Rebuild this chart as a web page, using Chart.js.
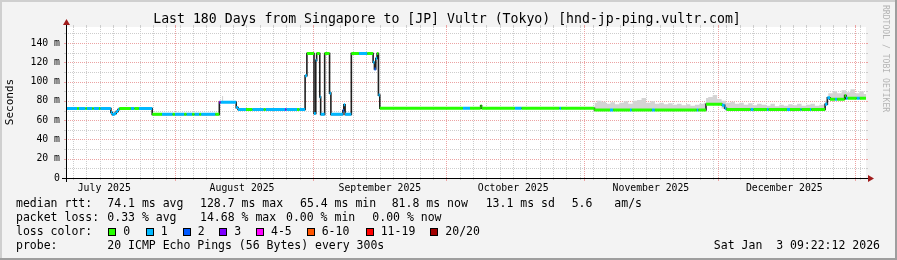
<!DOCTYPE html>
<html><head><meta charset="utf-8">
<script src="https://cdn.jsdelivr.net/npm/chart.js@4.4.1/dist/chart.umd.min.js"></script>
<style>html,body{margin:0;padding:0;background:#f3f3f3;}canvas{display:block;}</style>
</head><body>
<canvas id="c" width="897" height="260"></canvas>
<script>
// ---- data (x in days since start of the 180-day window) ----
const medDay = [0,2.5,2.9,4.4,4.7,5.9,6.2,7.4,7.7,10.1,10.4,10.9,11.3,11.7,12.0,14.6,15.4,16.4,
  19.4,21.6,24.0,24.5,26.6,27.1,28.4,28.9,30.0,30.4,33.6,34.5,34.8,38.3,38.7,40.5,41.9,44.5,44.9,49.3,49.6,52.0,52.5,
  53.8,54.2,55.8,56.2,56.4,57.1,57.3,58.2,59.3,59.6,62.3,62.5,62.8,64.2,65.9,67.8,69.1,69.4,69.7,70.0,70.3,70.6,
  89.3,90.9,93.3,93.5,101.0,102.5,111.0,111.4,118.9,122.4,123.1,126.9,127.3,131.8,132.5,141.9,142.3,144.0,
  147.6,148.2,148.6,154.0,154.7,157.7,158.1,162.2,162.9,165.2,165.5,167.4,167.7,170.8,171.3,171.9,173.0,173.5,
  175.2,175.5,175.9,177.9,178.6];
const medVal = [72,72,72,72,72,72,72,72,72,68,65.8,67,69,71,72,72,72,72,
  66,66,66,66,66,66,66,66,66,66,66,78.5,78.5,73,71,71,71,71,71,71,71,71,71,
  106,129,67,122,129,84,66,129,88,66,70,76,66,129,129,129,120,113,124,129,86,72.3,
  72.3,72.3,75,72.3,72.3,72.3,72.3,72.3,70.5,70.5,70.5,70.5,70.5,70.5,70.5,70.5,70.5,76.5,
  75.5,72.3,71,71,71,71,71,71,71,71,71,71,71,76.5,83.3,81.6,81.6,81.6,
  85.4,82.7,82.7,82.7,82.7];
const medLoss = [1,0,1,0,1,0,1,0,1,1,1,1,1,1,0,1,0,1,
  0,1,0,1,0,1,0,1,0,1,0,3,1,1,1,0,1,0,1,3,1,0,1,
  1,0,1,1,0,1,1,0,1,1,2,1,1,0,1,0,1,2,1,0,1,0,
  1,0,0,0,1,0,1,0,0,1,0,1,0,1,0,1,0,0,
  1,1,0,1,0,1,0,1,0,1,0,1,0,1,1,0,1,0,
  0,1,0,1,0];
const smokeDay = [35.1,35.4,35.5,
  118.9,119.5,120.5,121.5,122.5,123.5,124.5,125.5,126.5,127.5,128.5,129.5,130.5,131.5,132.5,133.5,134.5,135.5,136.5,137.5,138.5,139.5,140.5,141.5,142.5,143.5,
  144.0,144.5,145.5,146.5,147.5,148.5,149.5,150.5,151.5,152.5,153.5,154.5,155.5,156.5,157.5,158.5,159.5,160.5,161.5,162.5,163.5,164.5,165.5,166.5,167.5,168.5,169.5,170.5,
  170.8,171.5,172.5,173.5,174.5,175.5,176.5,177.5,178.5,179.5,180];
const smokeLo = [78,78,null,
  70,70,70,70,70,70,70,70,70,70,70,70,70,70,70,70,70,70,70,70,70,70,70,70,70,70,
  76,76,76,76,72,70.5,70.5,70.5,70.5,70.5,70.5,70.5,70.5,70.5,70.5,70.5,70.5,70.5,70.5,70.5,70.5,70.5,70.5,70.5,70.5,70.5,70.5,70.5,
  76,81,81,81,81,82,82,82,82,82,82];
const smokeHi = [85,78,null,
  78,80,79,77,78.5,76.5,78,79.5,77,80,81,83,78,79.5,77,78,76.5,77.5,76,77,75.5,76.5,75,76,77,78,
  83,84,86,82,80,78,79,77,78,76,77.5,75.5,77,76,75,77,74.5,76,75,76.5,75.5,77,75,76,77,75,76,77,
  80,88,90,88,91,89,92,88,90,87,87];
const yTicks = [0,20,40,60,80,100,120,140];
const monthLabels = ['July 2025','August 2025','September 2025','October 2025','November 2025','December 2025'];
const monthMidDay = [8.61,39.61,70.61,100.61,131.61,161.61];
const monthStartDay = [24.61,55.61,85.61,116.61,146.61,177.61];
const lossLabels = ['0','1','2','3','4-5','6-10','11-19','20/20'];
const lossColors = ['#26ff00','#00b8ff','#0059ff','#7e00ff','#ff00ff','#ff5500','#ff0000','#a10000'];
const titleText = 'Last 180 Days from Singapore to [JP] Vultr (Tokyo) [hnd-jp-ping.vultr.com]';
const statRtt = ['median rtt:','74.1 ms avg','128.7 ms max','65.4 ms min','81.8 ms now','13.1 ms sd','5.6','am/s'];
const statLoss = ['packet loss:','0.33 % avg','14.68 % max','0.00 % min','0.00 % now'];
const probeText = ['probe:','20 ICMP Echo Pings (56 Bytes) every 300s'];
const stampText = 'Sat Jan  3 09:22:12 2026';

// ---- build datasets ----
const END = 180;
const blackPts = medDay.map((d,i)=>({x:d,y:medVal[i]}));
blackPts.push({x:END,y:medVal[medVal.length-1]});
const colorPts = lossColors.map(()=>[]);
medDay.forEach((d,i)=>{
  const e = i+1<medDay.length ? medDay[i+1] : END;
  colorPts[medLoss[i]].push({x:d,y:medVal[i]},{x:e,y:medVal[i]},{x:e,y:null});
});
const loPts = smokeDay.map((d,i)=>({x:d,y:smokeLo[i]}));
const hiPts = smokeDay.map((d,i)=>({x:d,y:smokeHi[i]}));

const datasets = [];
lossColors.forEach((c,i)=>{
  datasets.push({data:colorPts[i],borderColor:c,borderWidth:3,borderCapStyle:'butt',pointRadius:0,fill:false,order:1,spanGaps:false});
});
datasets.push({data:blackPts,borderColor:'#202020',borderWidth:1.6,stepped:true,pointRadius:0,fill:false,order:2});
const loIndex = datasets.length;
datasets.push({data:loPts,borderWidth:0,borderColor:'rgba(0,0,0,0)',stepped:true,pointRadius:0,fill:false,order:4});
datasets.push({data:hiPts,borderWidth:0,borderColor:'rgba(0,0,0,0)',backgroundColor:'#d4d4d4',stepped:true,pointRadius:0,fill:{target:loIndex},order:3});

const MONO = '"DejaVu Sans Mono", monospace';
const MINOR = '#cdcdcd', MAJOR = '#eca3a3', ARROW = '#a01c1c';

const rrdPlugin = {
  id:'rrd',
  beforeDraw(chart){
    const ctx = chart.ctx, a = chart.chartArea, W = chart.width, H = chart.height;
    ctx.save();
    ctx.fillStyle = '#f3f3f3'; ctx.fillRect(0,0,W,H);
    ctx.fillStyle = '#cfcfcf'; ctx.fillRect(0,0,W,2); ctx.fillRect(0,0,2,H);
    ctx.fillStyle = '#9e9e9e'; ctx.fillRect(0,H-2,W,2); ctx.fillRect(W-2,0,2,H);
    ctx.fillStyle = '#ffffff'; ctx.fillRect(a.left,a.top,a.right-a.left,a.bottom-a.top);
    ctx.restore();
  },
  beforeDatasetsDraw(chart){
    const ctx = chart.ctx, a = chart.chartArea, xs = chart.scales.x, ys = chart.scales.y;
    ctx.save();
    ctx.lineWidth = 1;
    const vline = (px,col,stubs)=>{
      const x = Math.round(px)+0.5;
      ctx.strokeStyle = col; ctx.setLineDash([1,1]);
      ctx.beginPath(); ctx.moveTo(x,a.bottom); ctx.lineTo(x,a.top); ctx.stroke();
      ctx.setLineDash([]);
      ctx.beginPath(); ctx.moveTo(x,a.bottom); ctx.lineTo(x,a.bottom+stubs); ctx.moveTo(x,a.top-2); ctx.lineTo(x,a.top); ctx.stroke();
    };
    const hline = (py,col)=>{
      const y = Math.round(py)+0.5;
      ctx.strokeStyle = col; ctx.setLineDash([1,1]);
      ctx.beginPath(); ctx.moveTo(a.left,y); ctx.lineTo(a.right,y); ctx.stroke();
      ctx.setLineDash([]);
      ctx.beginPath(); ctx.moveTo(a.left-2,y); ctx.lineTo(a.left,y); ctx.moveTo(a.right,y); ctx.lineTo(a.right+2,y); ctx.stroke();
    };
    for(let d=1.61; d<END; d+=3){ vline(xs.getPixelForValue(d),MINOR,2); }
    for(let v=10; v<ys.max; v+=20){ hline(ys.getPixelForValue(v),MINOR); }
    monthStartDay.forEach(d=>vline(xs.getPixelForValue(d),MAJOR,3));
    yTicks.forEach(v=>{ if(v>0) hline(ys.getPixelForValue(v),MAJOR); });
    ctx.restore();
  },
  afterDatasetsDraw(chart){
    const ctx = chart.ctx, a = chart.chartArea;
    ctx.save();
    ctx.strokeStyle = '#000'; ctx.lineWidth = 1; ctx.setLineDash([]);
    const y0 = Math.round(a.bottom)+0.5, x0 = Math.round(a.left)+0.5;
    ctx.beginPath(); ctx.moveTo(a.left-4,y0); ctx.lineTo(a.right+4,y0); ctx.stroke();
    ctx.beginPath(); ctx.moveTo(x0,a.bottom+4); ctx.lineTo(x0,a.top-4); ctx.stroke();
    ctx.fillStyle = ARROW;
    ctx.beginPath(); ctx.moveTo(a.right+2,y0-3.5); ctx.lineTo(a.right+2,y0+3.5); ctx.lineTo(a.right+8,y0); ctx.closePath(); ctx.fill();
    ctx.beginPath(); ctx.moveTo(x0-3.5,a.top-2); ctx.lineTo(x0+3.5,a.top-2); ctx.lineTo(x0,a.top-8); ctx.closePath(); ctx.fill();
    ctx.restore();
  },
  afterDraw(chart){
    const ctx = chart.ctx;
    ctx.save();
    ctx.fillStyle = '#000'; ctx.textBaseline = 'middle';
    ctx.font = '13.2px '+MONO; ctx.textAlign = 'center';
    ctx.fillText(titleText, 447, 19.5);
    ctx.textAlign = 'left'; ctx.font = '11.5px '+MONO;
    const c1 = [16,107.3,200,300,391.7,485.7,571.7,614.3];
    statRtt.forEach((t,i)=>ctx.fillText(t,c1[i],204.5));
    const c2 = [16,107.3,200,286,372.3];
    statLoss.forEach((t,i)=>ctx.fillText(t,c2[i],218.5));
    ctx.fillText('loss color:',16,232.5);
    const bx = [108.3,145.7,182.7,219.3,256,306.7,365.7,430.3];
    lossLabels.forEach((t,i)=>{
      const x = Math.round(bx[i]);
      ctx.fillStyle = lossColors[i]; ctx.fillRect(x+0.5,228.5,7,7);
      ctx.strokeStyle = '#000'; ctx.lineWidth = 1; ctx.strokeRect(x+0.5,228.5,7,7);
      ctx.fillStyle = '#000'; ctx.fillText(t,bx[i]+15,232.5);
    });
    ctx.fillText(probeText[0],16,246.5);
    ctx.fillText(probeText[1],107.3,246.5);
    ctx.textAlign = 'right'; ctx.fillText(stampText,880,246.5);
    // y unit
    ctx.save(); ctx.translate(10.5,102); ctx.rotate(-Math.PI/2);
    ctx.textAlign = 'center'; ctx.font = '11px '+MONO; ctx.fillText('Seconds',0,0); ctx.restore();
    // watermark
    ctx.save(); ctx.translate(885.5,5); ctx.rotate(Math.PI/2);
    ctx.textAlign = 'left'; ctx.font = '8.1px '+MONO; ctx.fillStyle = '#b4b4b4';
    ctx.fillText('RRDTOOL / TOBI OETIKER',0,0); ctx.restore();
    ctx.restore();
  }
};

new Chart(document.getElementById('c'), {
  type:'line',
  data:{datasets},
  options:{
    responsive:false, animation:false, devicePixelRatio:1,
    layout:{padding:{left:0,right:31,top:27,bottom:0}},
    plugins:{legend:{display:false},tooltip:{enabled:false},title:{display:false}},
    scales:{
      x:{type:'linear',min:0,max:END,
        grid:{display:false,drawTicks:false},border:{display:false},
        afterBuildTicks:s=>{s.ticks = monthMidDay.map(v=>({value:v}));},
        afterFit:s=>{s.height = 82;},
        ticks:{autoSkip:false,maxRotation:0,minRotation:0,padding:5,color:'#000',
          font:{family:MONO,size:9.8},callback:(v,i)=>monthLabels[i]}},
      y:{type:'linear',min:0,max:156.6,
        grid:{display:false,drawTicks:false},border:{display:false},
        afterBuildTicks:s=>{s.ticks = yTicks.map(v=>({value:v}));},
        afterFit:s=>{s.width = 66;},
        ticks:{padding:6,color:'#000',font:{family:MONO,size:9.8},
          callback:v=> v===0 ? '0' : v+' m'}}
    }
  },
  plugins:[rrdPlugin]
});
</script>
</body></html>
